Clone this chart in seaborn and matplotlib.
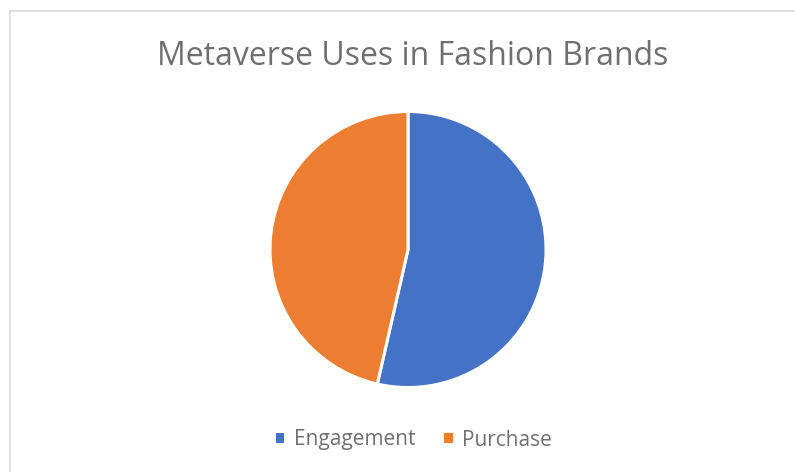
import matplotlib
matplotlib.use("Agg")
import matplotlib.pyplot as plt
import seaborn as sns
from matplotlib.lines import Line2D
from matplotlib.patches import Patch

categories = ["Engagement", "Purchase"]
values = [15, 13]
colors = ["#4472C4", "#ED7D31"]
title = "Metaverse Uses in Fashion Brands"

sns.set_theme(style="white")
plt.rcParams['font.family'] = ['Open Sans', 'DejaVu Sans']

W, H = 795, 472
fig = plt.figure(figsize=(W / 100, H / 100), dpi=100)

# chart border (top and left only visible)
fig.add_artist(Line2D([10 / W, 1], [1 - 11 / H, 1 - 11 / H], color="#d9d9d9", lw=1.2))
fig.add_artist(Line2D([10 / W, 10 / W], [1 - 11 / H, 0], color="#d9d9d9", lw=1.2))

cx, cy, r = 408, 249.5, 138
ax = fig.add_axes([(cx - r) / W, 1 - (cy + r) / H, 2 * r / W, 2 * r / H])
ax.pie(values, colors=colors, startangle=90, counterclock=False,
       wedgeprops=dict(edgecolor="white", linewidth=2.2), radius=1)
ax.set_xlim(-1, 1)
ax.set_ylim(-1, 1)
ax.set_aspect("auto")
ax.axis("off")

fig.text(413 / W, 1 - 65 / H, title, ha="center", va="baseline",
         fontsize=23, color="#6f6f6f")

handles = [Patch(facecolor=c, edgecolor="none") for c in colors]
fig.legend(handles, categories, loc="center", bbox_to_anchor=(414 / W, 1 - 440 / H),
           ncol=2, frameon=False, fontsize=15, handlelength=0.4, handleheight=0.4,
           handletextpad=0.45, columnspacing=1.4, labelcolor="#6f6f6f")

fig.savefig("out.png", dpi=100, facecolor="white")
